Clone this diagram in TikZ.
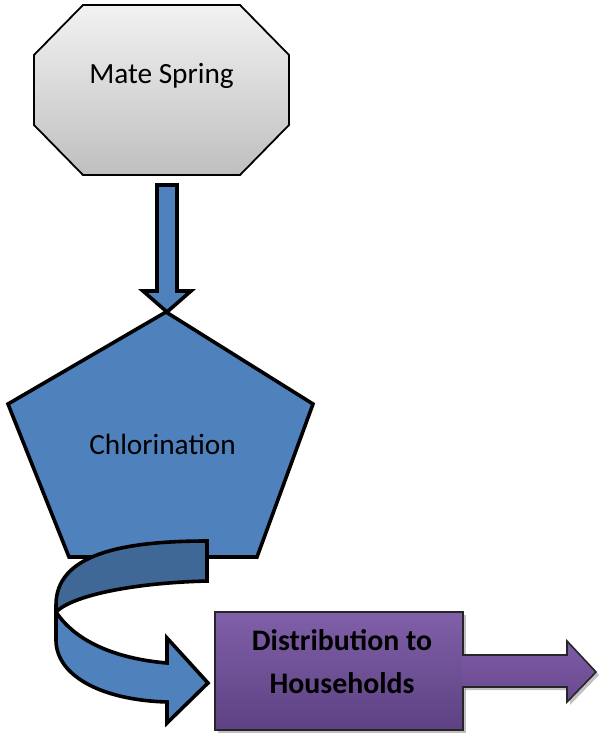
\documentclass[tikz,border=0pt]{standalone}
\usepackage{fontspec}
\setmainfont{Carlito}
\definecolor{octtop}{HTML}{F2F2F2}
\definecolor{octbot}{HTML}{BFBFBF}
\definecolor{pentblue}{HTML}{4F81BD}
\definecolor{bandback}{HTML}{3F6897}
\definecolor{purtop}{HTML}{8060A9}
\definecolor{purbot}{HTML}{5D4182}
\definecolor{arrtop}{HTML}{7E5CA7}
\definecolor{arrbot}{HTML}{69498F}
\tikzset{
  octabox/.style={draw=black, line width=1.8, top color=octtop, bottom color=octbot, line join=miter},
  bluearrow/.style={draw=black, line width=3.6, fill=pentblue, line join=miter},
  pentabox/.style={draw=black, line width=3.6, fill=pentblue, line join=miter},
  bandfront/.style={draw=black, line width=3.6, fill=pentblue, line join=miter},
  bandrear/.style={draw=black, line width=3.6, fill=bandback, line join=miter},
  purplebox/.style={draw=black!85, line width=1.6, top color=purtop, bottom color=purbot},
  purplearrow/.style={draw=black!85, line width=1.6, top color=arrtop, bottom color=arrbot, line join=miter},
  dropshadow/.style={fill=black!45, opacity=0.55, draw=none},
  lbl/.style={font=\fontsize{29.3}{35}\selectfont, text=black, inner sep=0pt, anchor=base},
  boldlbl/.style={font=\bfseries\fontsize{29.8}{36}\selectfont, text=black, inner sep=0pt, anchor=base}
}
\begin{document}
\begin{tikzpicture}[x=1pt,y=-1pt]
\useasboundingbox (0,0) rectangle (598,734);

% source: octagon
\path[octabox] (83,5) -- (240,5) -- (289,55) -- (289,125) -- (240,175)
  -- (83,175) -- (34,125) -- (34,55) -- cycle;
\node[lbl] (mate) at (161.5,83) {Mate Spring};

% downward block arrow
\coordinate (tip) at (167,312);
\path[bluearrow] (157,185) -- (177,185) -- (177,291) -- (191,291) -- (tip)
  -- (143,291) -- (157,291) -- cycle;

% treatment: pentagon
\path[pentabox] (166,312) -- (313,404) -- (257,557) -- (69,557) -- (8,404) -- cycle;
\node[lbl] (chlor) at (162.5,454) {Chlorination};

% curved ribbon arrow: front face
\path[bandfront] (56,612) .. controls (80,648) and (130,660) .. (167,663)
  -- (167,638) -- (208,683) -- (167,723) -- (167,702)
  .. controls (100,700) and (56,675) .. (56,640) -- cycle;
% curved ribbon arrow: rear face
\path[bandrear] (207,541) -- (207,581) .. controls (130,583) and (72,596) .. (56,612)
  -- (56,605) .. controls (56,555) and (120,541) .. (207,541) -- cycle;

% distribution box with shadow
\path[dropshadow] (218,615) rectangle (466,733);
\path[purplebox] (215,612) rectangle (463,730);
\node[boldlbl] (dist1) at (342,650) {Distribution to};
\node[boldlbl] (dist2) at (342,693) {Households};

% outgoing block arrow with shadow
\path[dropshadow] (465,658) -- (570,658) -- (570,644) -- (599,675) -- (570,705)
  -- (570,690) -- (465,690) -- cycle;
\path[purplearrow] (462,655) -- (567,655) -- (567,641) -- (596,672) -- (567,702)
  -- (567,687) -- (462,687);
\end{tikzpicture}
\end{document}
